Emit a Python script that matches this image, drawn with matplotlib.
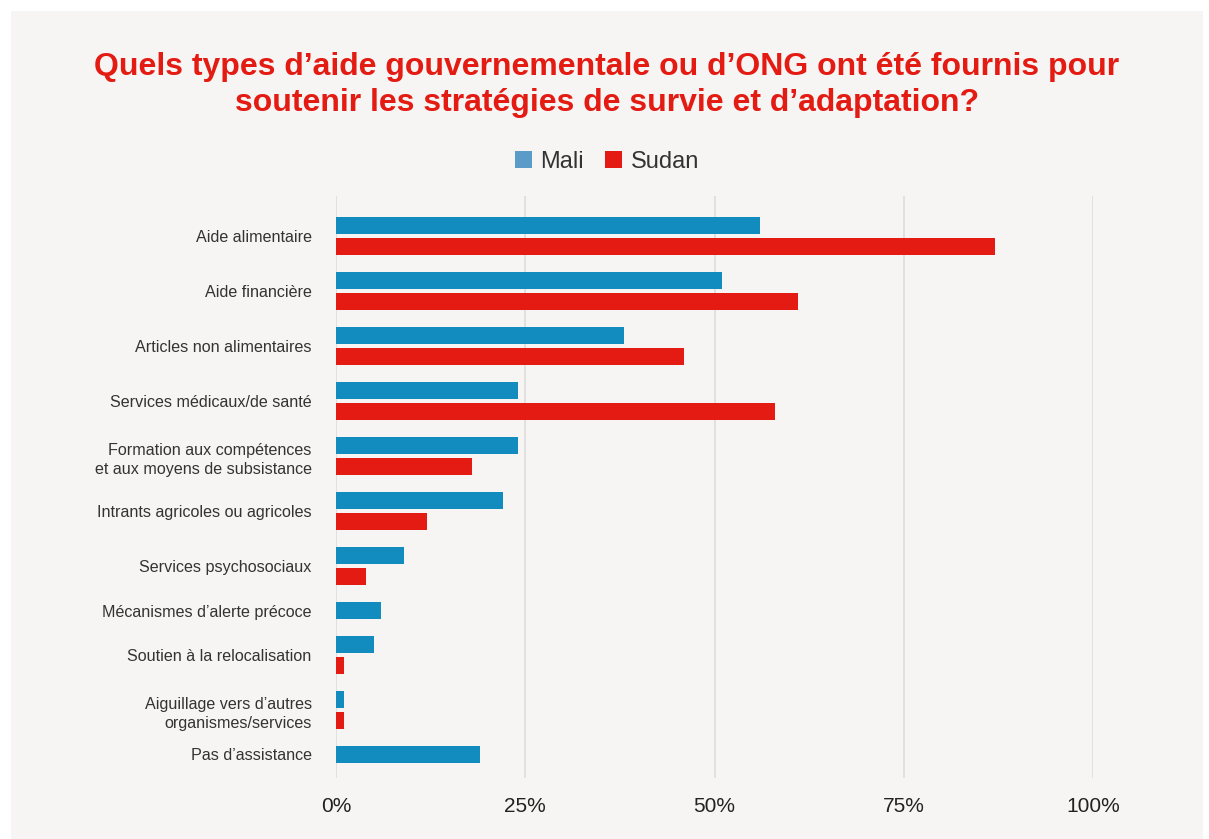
import matplotlib
matplotlib.use('Agg')
import matplotlib.pyplot as plt
from matplotlib.patches import Rectangle, Patch
from matplotlib.ticker import FuncFormatter

plt.rcParams['font.family'] = ['Liberation Sans', 'DejaVu Sans']

# données (en %)
categories = [
    "Aide alimentaire",
    "Aide financière",
    "Articles non alimentaires",
    "Services médicaux/de santé",
    "Formation aux compétences\net aux moyens de subsistance",
    "Intrants agricoles ou agricoles",
    "Services psychosociaux",
    "Mécanismes d’alerte précoce",
    "Soutien à la relocalisation",
    "Aiguillage vers d’autres\norganismes/services",
    "Pas d’assistance",
]
mali = [56, 51, 38, 24, 24, 22, 9, 6, 5, 1, 19]
sudan = [87, 61, 46, 58, 18, 12, 4, None, 1, 1, None]
series = ["Mali", "Sudan"]
xticks = [0, 25, 50, 75, 100]

bar_colors = ['#128cbe', '#e31b13']
legend_colors = ['#5b9bc8', '#e31b13']
bg = '#f6f5f3'
W, H = 1209, 839

fig = plt.figure(figsize=(W / 100, H / 100), dpi=100)
fig.patch.set_facecolor('white')
# panneau gris
fig.patches.append(Rectangle((11 / W, 0), (1203 - 11) / W, (H - 11) / H,
                             transform=fig.transFigure, facecolor=bg,
                             edgecolor='none', zorder=-10))

# axes placés en pixels
left, right, top, bottom = 336, 1093, 196, 778
ax = fig.add_axes([left / W, 1 - bottom / H, (right - left) / W, (bottom - top) / H])
ax.set_facecolor('none')
ax.set_zorder(1)

# positions des barres : chaque catégorie prend la place de ses barres
bar_h, slot, extra = 17, 21, 13
y = 217
centers = []
for i, cat in enumerate(categories):
    vals = [mali[i], sudan[i]]
    k = 0
    for j, v in enumerate(vals):
        if v is None:
            continue
        ax.barh(y + k * slot + bar_h / 2, v, height=bar_h, color=bar_colors[j],
                zorder=3)
        k += 1
    centers.append(y + (k * slot - 4) / 2)
    y += k * slot + extra

ax.set_xlim(0, 100)
ax.set_ylim(bottom, top)
ax.set_xticks(xticks)
ax.xaxis.set_major_formatter(FuncFormatter(lambda v, p: f"{v:.0f}%"))
ax.set_yticks(centers)
ax.set_yticklabels(categories)
for t in ax.get_yticklabels():
    t.set_linespacing(1.4)
ax.tick_params(axis='y', length=0, pad=17.5, labelsize=11.6, labelcolor='#333333')
ax.tick_params(axis='x', length=0, pad=14, labelsize=15, labelcolor='#222222')
ax.grid(axis='x', color='#dcdcdc', linewidth=1.2, zorder=0)
for s in ax.spines.values():
    s.set_visible(False)

fig.text(607 / W, 1 - 85 / H,
         "Quels types d’aide gouvernementale ou d’ONG ont été fournis pour\n"
         "soutenir les stratégies de survie et d’adaptation?",
         ha='center', va='center', fontsize=23, fontweight='bold',
         color='#e31b13', linespacing=1.25)

handles = [Patch(facecolor=c, edgecolor='none') for c in legend_colors]
fig.legend(handles, series, loc='center', bbox_to_anchor=(607 / W, 1 - 162 / H),
           ncol=2, frameon=False, fontsize=17, handlelength=0.72,
           handleheight=0.72, handletextpad=0.35, columnspacing=0.9,
           labelcolor='#333333')

fig.savefig('out.png', dpi=100, facecolor=fig.get_facecolor())
